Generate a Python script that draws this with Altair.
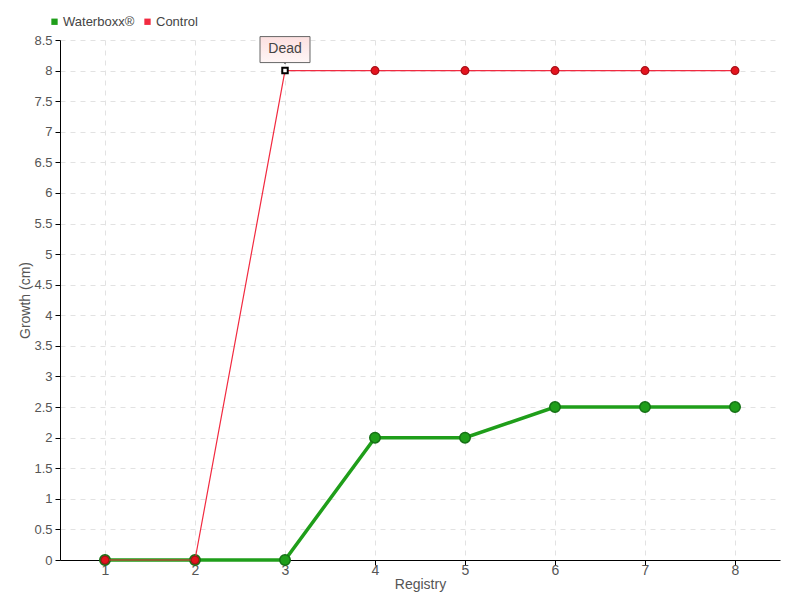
import altair as alt
import pandas as pd

registry = [1, 2, 3, 4, 5, 6, 7, 8]
waterboxx = [0, 0, 0, 2, 2, 2.5, 2.5, 2.5]
control = [0, 0, 8, 8, 8, 8, 8, 8]
series_names = ["Waterboxx®", "Control"]
series_colors = ["#1f9e1a", "#f22a40"]
y_ticks = [i * 0.5 for i in range(18)]
annotation_registry = 3
annotation_text = "Dead"

FONT = "Liberation Sans, Arial, sans-serif"

df = pd.DataFrame(
    {"Registry": registry * 2,
     "Growth": waterboxx + control,
     "Series": [series_names[0]] * len(registry) + [series_names[1]] * len(registry)}
)
ann = pd.DataFrame({"Registry": [annotation_registry],
                    "Growth": [control[registry.index(annotation_registry)]],
                    "label": [annotation_text]})

x = alt.X("Registry:Q", scale=alt.Scale(domain=[0.5, 8.5], nice=False, zero=False),
          axis=alt.Axis(values=registry, title="Registry", format="d"))
y = alt.Y("Growth:Q", scale=alt.Scale(domain=[0, 8.5], nice=False),
          axis=alt.Axis(values=y_ticks, title="Growth (cm)", format="~g"))
color = alt.Color("Series:N", scale=alt.Scale(domain=series_names, range=series_colors),
                  legend=alt.Legend(orient="none", legendX=-12, legendY=-25, direction="horizontal",
                                    title=None, symbolType="square", symbolSize=40,
                                    symbolStrokeWidth=0, labelFontSize=13, labelColor="#444",
                                    labelFont=FONT, columnPadding=6, symbolOffset=0, labelOffset=2))

base = alt.Chart(df)
green = base.transform_filter(alt.datum.Series == series_names[0])
red = base.transform_filter(alt.datum.Series == series_names[1])

green_line = green.mark_line(strokeWidth=3.5).encode(x=x, y=y, color=color)
green_pts = green.mark_point(filled=True, size=110, stroke="#157015", strokeWidth=1.5, opacity=1).encode(
    x=x, y=y, color=color)
red_line = red.mark_line(strokeWidth=1.2).encode(x=x, y=y, color=color)
red_pts = red.transform_filter(alt.datum.Registry != annotation_registry).mark_point(
    filled=True, size=60, stroke="#a81018", strokeWidth=1.2, opacity=1).encode(
    x=x, y=y, fill=alt.value("#e5141e"))

a = alt.Chart(ann)
hover_pt = a.mark_point(shape="square", filled=True, fill="white", stroke="black",
                        strokeWidth=2, size=30, opacity=1).encode(x=x, y=y)
pointer = a.mark_point(shape="triangle-down", filled=True, fill="#fdecec", stroke="#666",
                       strokeWidth=1, size=60, yOffset=-10, opacity=1).encode(x=x, y=y)
box = a.mark_rect(width=50, height=26, yOffset=-21, stroke="#666", strokeWidth=1,
                  fill={"gradient": "linear", "x1": 0, "y1": 0, "x2": 0, "y2": 1,
                        "stops": [{"offset": 0, "color": "#fce0e0"},
                                  {"offset": 1, "color": "#fff6f6"}]}).encode(x=x, y=y)
box_text = a.mark_text(fontSize=14, font=FONT, color="#444", dy=-22).encode(
    x=x, y=y, text="label:N")

chart = alt.layer(green_line, green_pts, red_line, red_pts, hover_pt, pointer, box, box_text).properties(
    width=720, height=520,
    autosize=alt.AutoSizeParams(type="none"),
    padding={"left": 52, "top": 32, "right": 12, "bottom": 40},
).configure_view(stroke=None).configure_axis(
    labelFont=FONT, titleFont=FONT, labelFontSize=14, titleFontSize=14,
    labelColor="#555", titleColor="#555", titleFontWeight="normal",
    domainColor="black", tickColor="black", tickSize=5,
    gridColor="#e2e2e2", gridDash=[5, 5], grid=True,
).configure_axisX(titlePadding=0, labelPadding=-2).configure_axisY(
    titlePadding=1, labelPadding=3, labelFontSize=13)

chart.save("out.html", embed_options={"renderer": "svg", "actions": False})
